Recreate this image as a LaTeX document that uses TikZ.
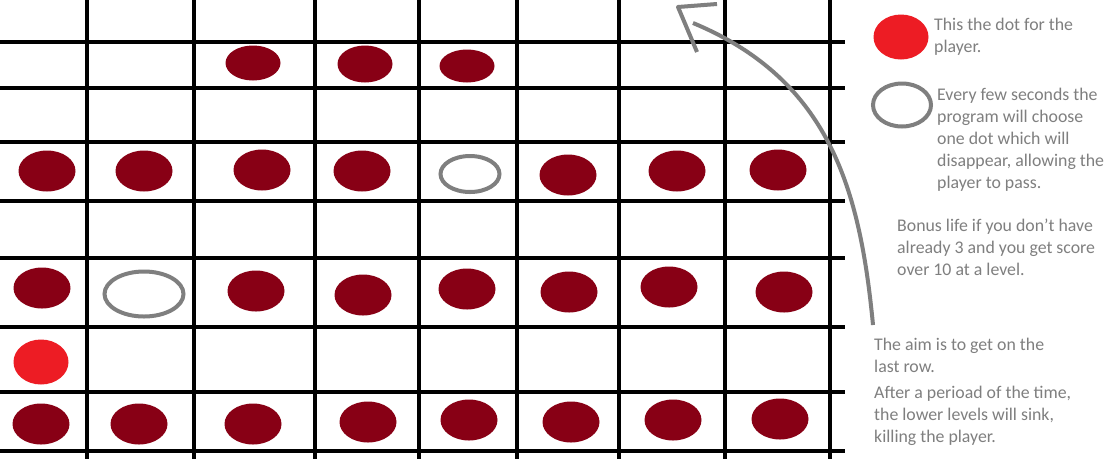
\documentclass[tikz,border=0pt]{standalone}
\usepackage{fontspec}
\setmainfont{Carlito}
\usetikzlibrary{positioning}
\definecolor{wall red}{RGB}{136,0,21}
\definecolor{player red}{RGB}{237,28,36}
\definecolor{hole gray}{RGB}{127,127,127}
\tikzset{
    grid line/.style={line width=4pt,black},
    wall dot/.style={fill=wall red},
    player dot/.style={fill=player red},
    hole dot/.style={draw=hole gray,line width=4pt},
    gray stroke/.style={draw=hole gray,line width=4pt,line join=round},
    note/.style={anchor=base west,align=left,inner sep=0pt,text=hole gray,font=\fontsize{17.8}{21.8}\selectfont},
}
\begin{document}
\begin{tikzpicture}[x=1pt,y=-1pt]
        \useasboundingbox (0,0) rectangle (1116,459);
        \fill[white] (0,0) rectangle (1116,459);
        % the board
        \foreach \y in {42,88,142,201,258,327,392,451}{
            \draw[grid line] (0,\y) -- (845,\y);
        }
        \foreach \x in {87,194,315,419,517,619,725,830}{
            \draw[grid line] (\x,0) -- (\x,459);
        }
        % dots of the levels
        \foreach \x/\y/\a/\b in {253/63/27.5/17.5,365/64/27.5/18.5,467/66/27.5/16.5}{
            \fill[wall dot] (\x,\y) ellipse[x radius=\a pt,y radius=\b pt];
        }
        \foreach \x/\y in {47/171,144/171,262/170,362/171,568/175,677/171,778/170,
                           42/288,256/291,363/295,467/289,569/292,669/287,784/292,
                           41/424,139/424,253/424,368/422,469/420,571/422,673/420,780/419}{
            \fill[wall dot] (\x,\y) ellipse[x radius=28.5pt,y radius=20.5pt];
        }
        \draw[hole dot] (470,174) ellipse[x radius=29.5pt,y radius=18pt];
        \draw[hole dot] (144,294) ellipse[x radius=39.5pt,y radius=22.5pt];
        \fill[player dot] (41,362) ellipse[x radius=27.5pt,y radius=22.5pt];
        % legend (base = last line)
        \fill[player dot] (901,37) ellipse[x radius=27.5pt,y radius=22.5pt];
        \draw[hole dot] (902,105) ellipse[x radius=29pt,y radius=21.5pt];
        \node[note] (player note) at (934,52) {This the dot for the\\player.};
        \node[note] (hole note) at (937,188) {Every few seconds the\\program will choose\\one dot which will\\disappear, allowing the\\player to pass.};
        \node[note] (bonus note) at (897,275) {Bonus life if you don\symbol{39}t have\\already 3 and you get score\\over 10 at a level.};
        \node[note] (aim note) at (874,372) {The aim is to get on the\\last row.};
        \node[note] (sink note) at (874,442) {After a perioad of the time,\\the lower levels will sink,\\killing the player.};
        % the way up
        \coordinate (aim) at (873,325);
        \coordinate (last row) at (693,23);
        \coordinate (tip) at (678,7);
        \draw[gray stroke] (aim) .. controls (860,190) and (830,80) .. (last row);
        \draw[gray stroke] (717,4) -- (tip) -- (697,52);
    \end{tikzpicture}
\end{document}
